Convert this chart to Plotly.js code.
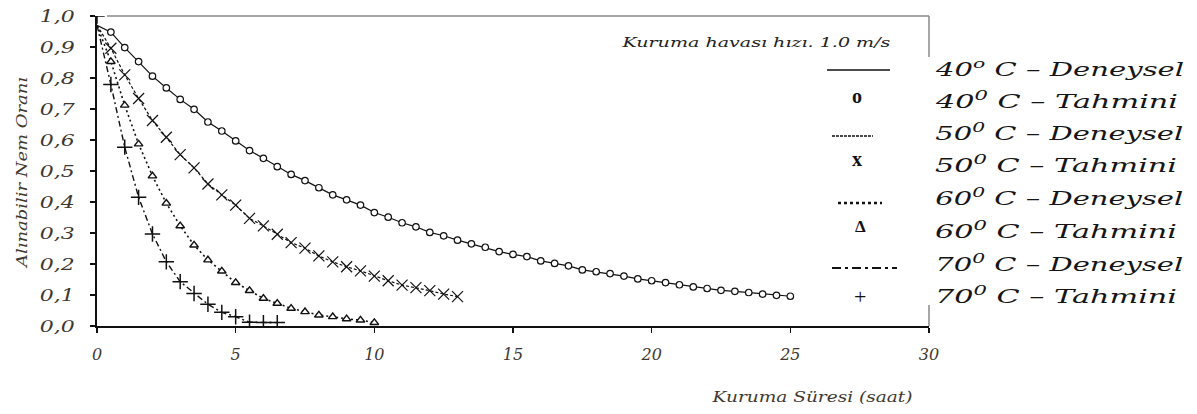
<!DOCTYPE html>
<html><head><meta charset="utf-8">
<script src="https://cdn.plot.ly/plotly-3.0.1.min.js"></script>
<style>html,body{margin:0;padding:0;background:#fff;} #chart{width:1197px;height:414px;}</style>
</head><body><div id="chart"></div>
<script>
// ---- data ----
const timeDen40 = [0,0.5,1,1.5,2,2.5,3,3.5,4,4.5,5,5.5,6,6.5,7,7.5,8,8.5,9,9.5,10,10.5,11,11.5,12,12.5,13,13.5,14,14.5,15,15.5,16,16.5,17,17.5,18,18.5,19,19.5,20,20.5,21,21.5,22,22.5,23,23.5,24,24.5,25];
const den40 = [0.97,0.948,0.898,0.853,0.806,0.768,0.731,0.699,0.658,0.629,0.597,0.566,0.541,0.514,0.489,0.469,0.446,0.423,0.407,0.390,0.366,0.351,0.333,0.320,0.302,0.291,0.277,0.265,0.254,0.240,0.231,0.224,0.210,0.202,0.194,0.181,0.175,0.169,0.161,0.152,0.146,0.140,0.133,0.126,0.121,0.115,0.112,0.108,0.103,0.099,0.096];
const timeTah40 = [0.5,1,1.5,2,2.5,3,3.5,4,4.5,5,5.5,6,6.5,7,7.5,8,8.5,9,9.5,10,10.5,11,11.5,12,12.5,13,13.5,14,14.5,15,15.5,16,16.5,17,17.5,18,18.5,19,19.5,20,20.5,21,21.5,22,22.5,23,23.5,24,24.5,25];
const tah40 = [0.948,0.898,0.853,0.806,0.768,0.731,0.699,0.658,0.629,0.597,0.566,0.541,0.514,0.489,0.469,0.446,0.423,0.407,0.390,0.366,0.351,0.333,0.320,0.302,0.291,0.277,0.265,0.254,0.240,0.231,0.224,0.210,0.202,0.194,0.181,0.175,0.169,0.161,0.152,0.146,0.140,0.133,0.126,0.121,0.115,0.112,0.108,0.103,0.099,0.096];

const timeDen50 = [0,0.5,1,1.5,2,2.5,3,3.5,4,4.5,5,5.5,6,6.5,7,7.5,8,8.5,9,9.5,10,10.5,11,11.5,12,12.5,13];
const den50 = [0.97,0.896,0.810,0.734,0.663,0.609,0.553,0.510,0.458,0.423,0.390,0.347,0.323,0.296,0.269,0.251,0.226,0.207,0.191,0.178,0.161,0.146,0.132,0.124,0.114,0.103,0.095];
const timeTah50 = [0.5,1,1.5,2,2.5,3,3.5,4,4.5,5,5.5,6,6.5,7,7.5,8,8.5,9,9.5,10,10.5,11,11.5,12,12.5,13];
const tah50 = [0.896,0.810,0.734,0.663,0.609,0.553,0.510,0.458,0.423,0.390,0.347,0.323,0.296,0.269,0.251,0.226,0.207,0.191,0.178,0.161,0.146,0.132,0.124,0.114,0.103,0.095];

const timeDen60 = [0,0.5,1,1.5,2,2.5,3,3.5,4,4.5,5,5.5,6,6.5,7,7.5,8,8.5,9,9.5,10];
const den60 = [0.97,0.853,0.712,0.587,0.484,0.396,0.323,0.261,0.213,0.177,0.140,0.114,0.089,0.073,0.057,0.046,0.035,0.030,0.023,0.019,0.011];
const timeTah60 = [0.5,1,1.5,2,2.5,3,3.5,4,4.5,5,5.5,6,6.5,7,7.5,8,8.5,9,9.5,10];
const tah60 = [0.853,0.712,0.587,0.484,0.396,0.323,0.261,0.213,0.177,0.140,0.114,0.089,0.073,0.057,0.046,0.035,0.030,0.023,0.019,0.011];

const timeDen70 = [0,0.5,1,1.5,2,2.5,3,3.5,4,4.5,5,5.5,6,6.5];
const den70 = [0.97,0.779,0.577,0.415,0.297,0.207,0.143,0.105,0.070,0.044,0.030,0.012,0.011,0.011];
const timeTah70 = [0,0.5,1,1.5,2,2.5,3,3.5,4,4.5,5,5.5,6,6.5];
const tah70 = [1.0,0.779,0.577,0.415,0.297,0.207,0.143,0.105,0.070,0.044,0.030,0.012,0.011,0.011];

const legendTitle = 'Kuruma havası hızı. 1.0 m/s';
const seriesLabels = ['40<sup>o</sup> C – Deneysel','40<sup>0</sup> C – Tahmini','50<sup>0</sup> C – Deneysel','50<sup>0</sup> C – Tahmini','60<sup>0</sup> C – Deneysel','60<sup>0</sup> C – Tahmini','70<sup>0</sup> C – Deneysel','70<sup>0</sup> C – Tahmini'];
const legendGlyphs = ['o','x','Δ','+'];
const xTitle = 'Kuruma Süresi (saat)';
const yTitle = 'Alınabilir Nem Oranı';

// ---- styling ----
const SERIF = 'DejaVu Serif';
const SERIF_UP = 'Liberation Serif';
const INK = '#111';
const LABEL = '#3e3830';

const lineTrace = (x, y, dash, w) => ({x, y, type:'scatter', mode:'lines', line:{color:INK, width:w, dash}, showlegend:false});
const markTrace = (x, y, marker) => ({x, y, type:'scatter', mode:'markers', marker, showlegend:false});

const data = [
  lineTrace(timeDen40, den40, 'solid', 1.2),
  markTrace(timeTah40, tah40, {symbol:'circle', size:6.5, color:'#fff', line:{color:INK, width:1.2}}),
  lineTrace(timeDen50, den50, '3px,2px', 1.2),
  markTrace(timeTah50, tah50, {symbol:'x-thin-open', size:11, color:INK, line:{color:INK, width:1.2}}),
  lineTrace(timeDen60, den60, '2px,3px', 1.6),
  markTrace(timeTah60, tah60, {symbol:'triangle-up', size:7.5, color:'#fff', line:{color:INK, width:1.4}}),
  lineTrace(timeDen70, den70, '6px,3px,2px,3px', 1.4),
  markTrace(timeTah70, tah70, {symbol:'cross-thin-open', size:11, color:INK, line:{color:INK, width:1.5}})
];

// layout helpers (pixel -> paper)
const L = 97, R = 929, T = 16, B = 326;
const px = v => (v - L) / (R - L);
const py = v => (B - v) / (B - T);

const annTargets = [];
const annotations = [];
function addAnn(a, target) { annotations.push(a); annTargets.push(target || 0); }

// legend title
addAnn({text:legendTitle, xref:'paper', yref:'paper', x:px(756), y:py(42), xanchor:'center', yanchor:'middle', showarrow:false,
  font:{family:SERIF, size:13, style:'italic', color:'#222'}}, 268);
// legend rows
const rowY = [70, 102, 134, 166, 199, 232, 265, 297];
seriesLabels.forEach((s, i) => {
  const deneysel = i % 2 === 0;
  const w = deneysel ? 248 : 242;
  addAnn({text:s, xref:'paper', yref:'paper', x:px(935 + w/2), y:py(rowY[i] - 2), xanchor:'center', yanchor:'middle', showarrow:false,
    font:{family:SERIF, size:19, style:'italic', color:'#151515'}}, w);
});
// legend glyph symbols
const glyphPos = [[857,96,20,'bold'],[857,159,20,'bold'],[860,226,17,'bold'],[860,296,22,'normal']];
legendGlyphs.forEach((g, i) => {
  const p = glyphPos[i];
  addAnn({text:g, xref:'paper', yref:'paper', x:px(p[0]), y:py(p[1]), xanchor:'center', yanchor:'middle', showarrow:false,
    font:{family:SERIF_UP, size:p[2], weight:p[3], color:'#111'}}, 0);
});
// axis titles
addAnn({text:xTitle, xref:'paper', yref:'paper', x:px(812), y:py(397), xanchor:'center', yanchor:'middle', showarrow:false,
  font:{family:SERIF, size:14, style:'italic', color:LABEL}}, 200);
addAnn({text:yTitle, xref:'paper', yref:'paper', x:px(22), y:py(173), xanchor:'center', yanchor:'middle', showarrow:false, textangle:-90,
  font:{family:SERIF, size:14, style:'italic', color:LABEL}}, 190);

const shapes = [
  // frame: top and right edges (gray)
  {type:'line', xref:'paper', yref:'paper', x0:0.012, x1:1, y0:1, y1:1, line:{color:'#8a8a8a', width:1.5}},
  {type:'line', xref:'paper', yref:'paper', x0:1, x1:1, y0:1, y1:py(57), line:{color:'#8a8a8a', width:1.5}},
  {type:'line', xref:'paper', yref:'paper', x0:1, x1:1, y0:py(305), y1:0, line:{color:'#8a8a8a', width:1.5}},
  // legend line samples
  {type:'line', xref:'paper', yref:'paper', x0:px(827), x1:px(890), y0:py(70), y1:py(70), line:{color:INK, width:1.4}},
  {type:'line', xref:'paper', yref:'paper', x0:px(832), x1:px(873), y0:py(136), y1:py(136), line:{color:INK, width:1.4, dash:'3px,1px'}},
  {type:'line', xref:'paper', yref:'paper', x0:px(838), x1:px(882), y0:py(203), y1:py(203), line:{color:INK, width:2.5, dash:'3px,3px'}},
  {type:'line', xref:'paper', yref:'paper', x0:px(832), x1:px(897), y0:py(268), y1:py(268), line:{color:INK, width:2, dash:'9px,4px,3px,4px'}}
];

const layout = {
  width:1197, height:414,
  margin:{l:L, r:1197-R, t:T, b:414-B, pad:0},
  paper_bgcolor:'#fff', plot_bgcolor:'#fff',
  separators:', ',
  showlegend:false,
  xaxis:{range:[0,30], dtick:5, tick0:0, showgrid:false, zeroline:false, showline:true, linecolor:'#111', linewidth:2,
    ticks:'outside', ticklen:5, tickwidth:1.5, tickcolor:'#111', ticklabelstandoff:8,
    tickfont:{family:SERIF, size:16, style:'italic', color:LABEL}},
  yaxis:{range:[0,1], dtick:0.1, tick0:0, tickformat:'.1f', showgrid:false, zeroline:false, showline:true, linecolor:'#111', linewidth:2,
    ticks:'outside', ticklen:5, tickwidth:1.5, tickcolor:'#111', ticklabelstandoff:12,
    tickfont:{family:SERIF, size:16, style:'italic', color:LABEL}},
  shapes, annotations
};

Plotly.newPlot('chart', data, layout, {staticPlot:true}).then(gd => {
  const ZW = '\u200b';
  // fold Plotly's zero-width baseline-reset helpers into the following text
  gd.querySelectorAll('text.annotation-text tspan').forEach(ts => {
    if (ts.textContent === ZW) {
      const next = ts.nextSibling;
      if (next && next.nodeType === 3 && next.textContent.length) {
        ts.textContent = next.textContent;
        next.parentNode.removeChild(next);
      }
    }
  });
  gd.querySelectorAll('text.annotation-text').forEach(t => {
    const walker = document.createTreeWalker(t, NodeFilter.SHOW_TEXT);
    const dead = [];
    while (walker.nextNode()) { if (walker.currentNode.textContent === ZW) dead.push(walker.currentNode); }
    dead.forEach(n => n.parentNode.removeChild(n));
  });
  const stretchTo = (el, target) => {
    const w = el.getComputedTextLength();
    if (w > 0 && target > 0) { el.setAttribute('textLength', target); el.setAttribute('lengthAdjust', 'spacingAndGlyphs'); }
  };
  gd.querySelectorAll('g.ytick text').forEach(el => stretchTo(el, 35));
  gd.querySelectorAll('g.annotation').forEach(g => {
    const i = +g.getAttribute('data-index');
    const t = g.querySelector('text.annotation-text');
    if (t && annTargets[i]) stretchTo(t, annTargets[i]);
  });
});
</script></body></html>
